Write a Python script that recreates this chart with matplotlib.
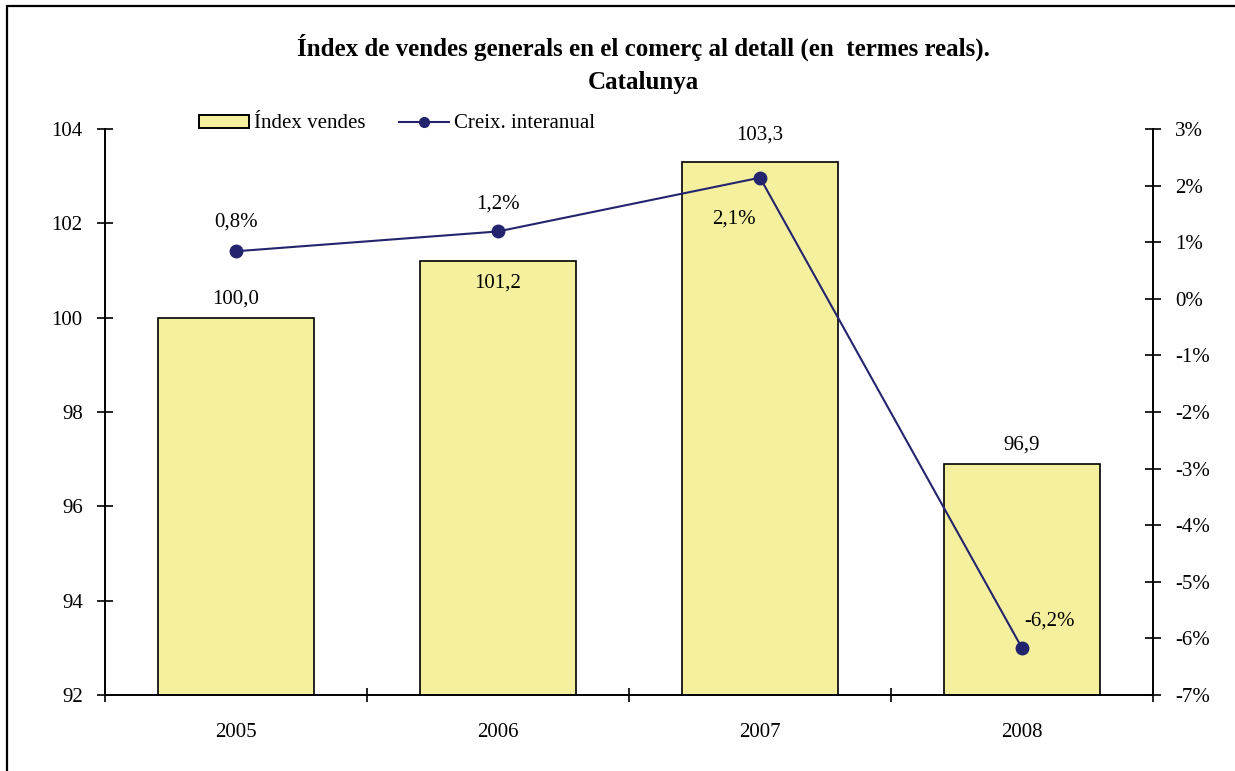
import matplotlib
matplotlib.use("Agg")
import matplotlib.pyplot as plt
from matplotlib.patches import Rectangle
from matplotlib.lines import Line2D
from matplotlib.patches import Patch

years = ["2005", "2006", "2007", "2008"]
index_vals = [100.0, 101.2, 103.3, 96.9]
growth_vals = [0.84, 1.19, 2.14, -6.17]
left_ticks = [92, 94, 96, 98, 100, 102, 104]
right_ticks = [3, 2, 1, 0, -1, -2, -3, -4, -5, -6, -7]

plt.rcParams['font.family'] = ['Liberation Serif', 'DejaVu Serif']

W, H = 1235, 771
fig = plt.figure(figsize=(W/100, H/100), dpi=100)
fig.patches.append(Rectangle((6.5/W, -0.1), 1.2, 1 - 6.5/H + 0.1, transform=fig.transFigure,
                             fill=False, edgecolor='black', linewidth=1.6, zorder=0))

ax = fig.add_axes([105/W, 1 - 695/H, (1153-105)/W, (695-129)/H])
ax2 = ax.twinx()

pos = [0.5, 1.5, 2.5, 3.5]
bar_color = '#F4F09E'
line_color = '#24246E'
FS = 15

ax.bar(pos, index_vals, width=0.595, bottom=0, color=bar_color, edgecolor='black', linewidth=1.2, zorder=2)
ax.set_ylim(92, 104)
ax.set_xlim(0, 4)
ax.set_yticks(left_ticks)
ax.set_yticklabels([str(t) for t in left_ticks])
ax.set_xticks([0, 1, 2, 3, 4])
ax.set_xticklabels([])
ax.set_xticks(pos, minor=True)
ax.set_xticklabels(years, minor=True)
ax.tick_params(axis='x', which='minor', length=0, pad=20, labelsize=FS)
ax.tick_params(axis='x', which='major', direction='inout', length=10, width=1.2)
ax.tick_params(axis='y', direction='inout', length=12, width=1.2, labelsize=FS, pad=10)

for s in ['top']:
    ax.spines[s].set_visible(False)
    ax2.spines[s].set_visible(False)
for s in ['left', 'bottom']:
    ax.spines[s].set_linewidth(1.4)
ax2.spines['right'].set_linewidth(1.4)
ax.spines['right'].set_visible(False)
ax2.spines['left'].set_visible(False)
ax2.spines['bottom'].set_visible(False)

ax2.plot(pos, growth_vals, color=line_color, linewidth=1.5, marker='o', markersize=9, zorder=5)
ax2.set_ylim(-7, 3)
ax2.set_yticks(right_ticks)
ax2.set_yticklabels([f"{t}%" for t in right_ticks])
ax2.tick_params(axis='y', direction='inout', length=12, width=1.2, labelsize=FS, pad=10)

ax.set_zorder(1)
ax2.set_zorder(2)
ax2.patch.set_visible(False)

def fmt(v, pct=False):
    s = f"{v:.1f}".replace('.', ',')
    return s + ('%' if pct else '')

# bar labels (offsets in points)
bar_offsets = [(0, 13.5), (0, -16), (0, 19.5), (0, 13.5)]
for p, v, off in zip(pos, index_vals, bar_offsets):
    ax.annotate(fmt(v), (p, v), xytext=off, textcoords='offset points',
                ha='center', va='center', fontsize=FS, zorder=6)

line_offsets = [(0, 21), (0, 20), (-19, -30), (20, 19.5)]
for p, v, off in zip(pos, growth_vals, line_offsets):
    ax2.annotate(fmt(v, True), (p, v), xytext=off, textcoords='offset points',
                 ha='center', va='center', fontsize=FS, zorder=6)

fig.text((293+993)/2/W, 1 - 47/H, "Índex de vendes generals en el comerç al detall (en  termes reals).",
         ha='center', va='center', fontsize=18, fontweight='bold')
fig.text((293+993)/2/W, 1 - 82/H, "Catalunya", ha='center', va='center', fontsize=18, fontweight='bold')

handles = [Patch(facecolor=bar_color, edgecolor='black', linewidth=1.4),
           Line2D([0], [0], color=line_color, linewidth=1.5, marker='o', markersize=7)]
fig.legend(handles, ["Índex vendes", "Creix. interanual"], loc='center left',
           bbox_to_anchor=(199/W, 1 - 124/H), ncol=2, frameon=False, fontsize=FS,
           handlelength=2.4, handleheight=0.6, handletextpad=0.25, columnspacing=1.6,
           borderaxespad=0, borderpad=0)

fig.savefig("out.png", dpi=100)
